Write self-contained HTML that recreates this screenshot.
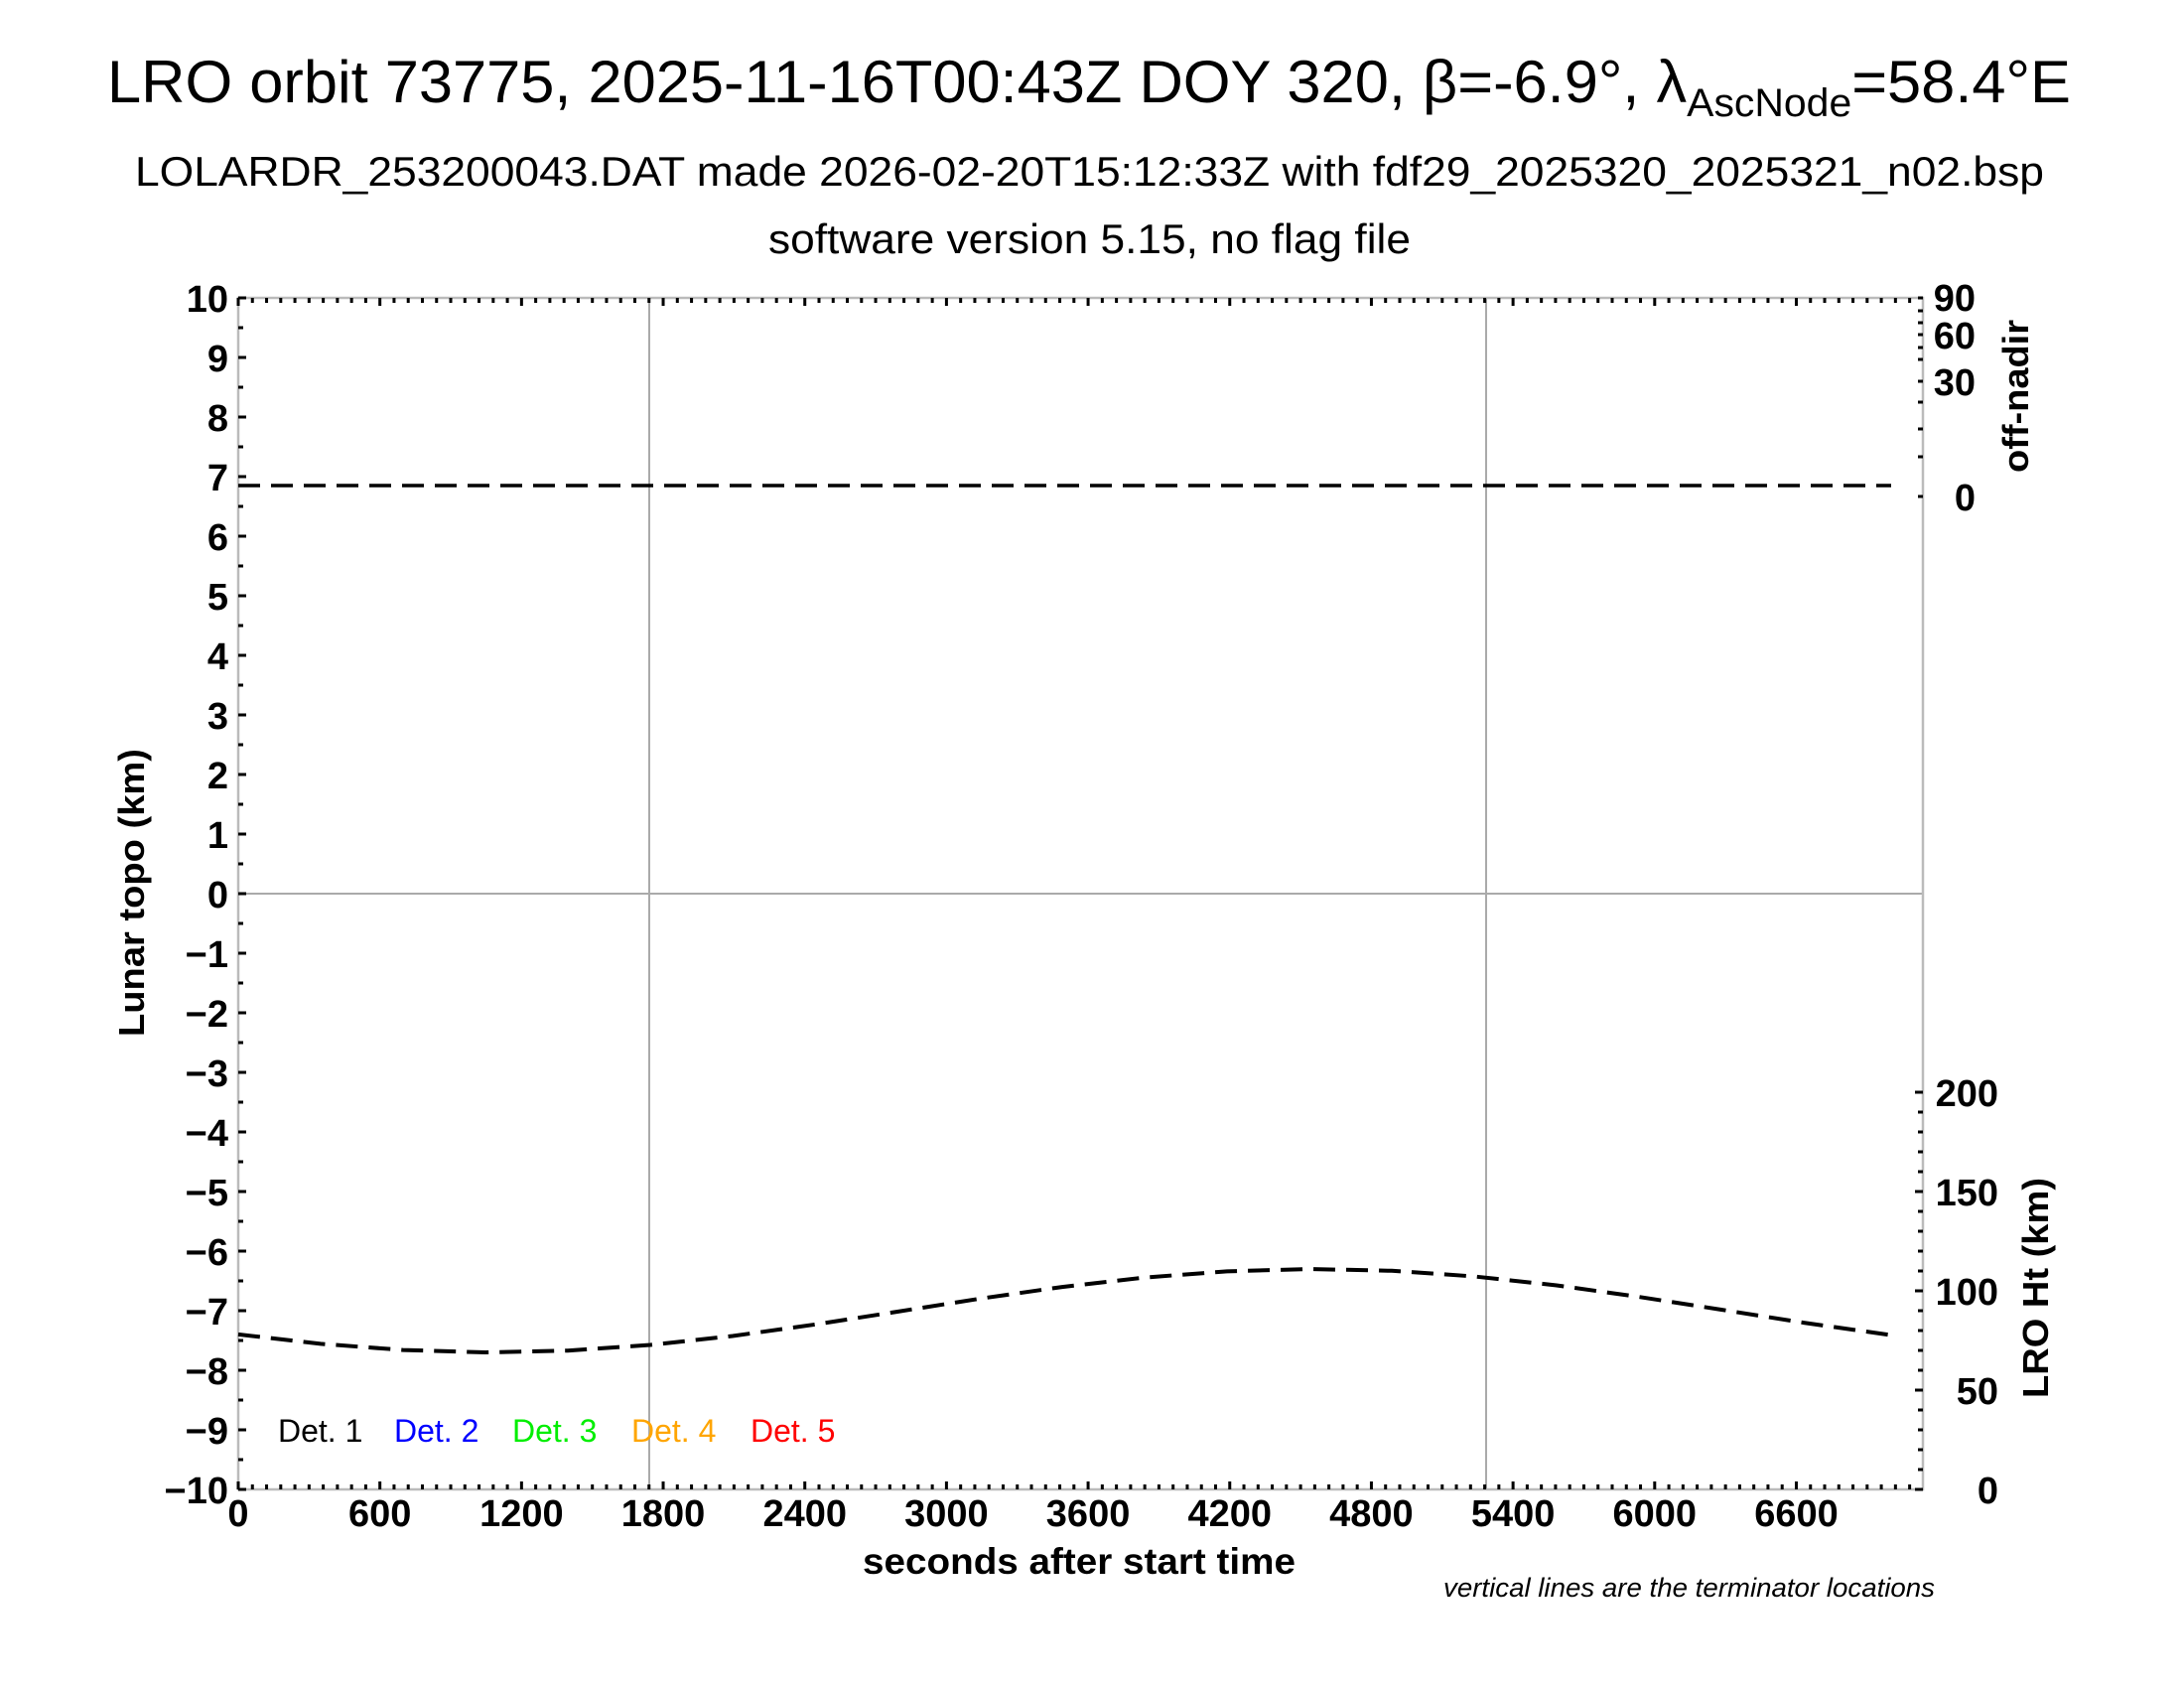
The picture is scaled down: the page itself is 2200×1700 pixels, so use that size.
<!DOCTYPE html>
<html><head><meta charset="utf-8"><style>
html,body{margin:0;padding:0;background:#fff}
svg{display:block}
text{font-family:"Liberation Sans",Arial,sans-serif}
</style></head><body>
<svg id="s" width="2200" height="1700" viewBox="0 0 2200 1700" xmlns="http://www.w3.org/2000/svg">
<rect width="2200" height="1700" fill="#fff"/>
<text x="108" y="103" font-size="60" textLength="1978" lengthAdjust="spacingAndGlyphs">LRO orbit 73775, 2025-11-16T00:43Z DOY 320, β=-6.9°, λ<tspan font-size="40" dy="14">AscNode</tspan><tspan dy="-14">=58.4°E</tspan></text>
<text x="136" y="187" font-size="42" textLength="1923" lengthAdjust="spacingAndGlyphs">LOLARDR_253200043.DAT made 2026-02-20T15:12:33Z with fdf29_2025320_2025321_n02.bsp</text>
<text x="774" y="255" font-size="42" textLength="647" lengthAdjust="spacingAndGlyphs">software version 5.15, no flag file</text>

<line x1="240" y1="900" x2="1937" y2="900" stroke="#aaa" stroke-width="2"/>
<line x1="654" y1="300" x2="654" y2="1500" stroke="#aaa" stroke-width="2"/>
<line x1="1497" y1="300" x2="1497" y2="1500" stroke="#aaa" stroke-width="2"/>
<rect x="240" y="300" width="1697" height="1200" fill="none" stroke="#bbb" stroke-width="2.5"/>
<g id="ticks" stroke="#000" stroke-width="3"></g>

<line x1="240" y1="489" x2="1905" y2="489" stroke="#000" stroke-width="3.5" stroke-dasharray="22,11"/>
<polyline fill="none" stroke="#000" stroke-width="4" stroke-dasharray="22,11" points="240,1343.9 323,1353.4 406,1359.6 489,1362 572,1360.2 655,1354.5 738,1345.5 821,1333.9 904,1321 987,1307.9 1070,1296.1 1153,1286.6 1236,1280.4 1319,1278 1402,1279.8 1485,1285.5 1568,1294.5 1651,1306.1 1734,1319 1817,1332.1 1905,1344.6"/>

<g id="yl" font-size="38" text-anchor="end" font-weight="bold"></g>
<g id="xl" font-size="38" text-anchor="middle" font-weight="bold"></g>
<g font-size="38" text-anchor="end" font-weight="bold">
<text x="1990" y="313">90</text><text x="1990" y="351">60</text><text x="1990" y="398">30</text><text x="1990" y="514">0</text>
<text x="2013" y="1114">200</text><text x="2013" y="1214">150</text><text x="2013" y="1314">100</text><text x="2013" y="1414">50</text><text x="2013" y="1514">0</text>
</g>
<text transform="translate(145,899) rotate(-90)" font-size="36" font-weight="bold" text-anchor="middle" textLength="290" lengthAdjust="spacingAndGlyphs">Lunar topo (km)</text>
<text transform="translate(2043,399) rotate(-90)" font-size="36" font-weight="bold" text-anchor="middle" textLength="154" lengthAdjust="spacingAndGlyphs">off-nadir</text>
<text transform="translate(2063,1297) rotate(-90)" font-size="36" font-weight="bold" text-anchor="middle" textLength="222" lengthAdjust="spacingAndGlyphs">LRO Ht (km)</text>
<text x="869" y="1585" font-size="37" font-weight="bold" textLength="436" lengthAdjust="spacingAndGlyphs">seconds after start time</text>
<text x="1454" y="1608" font-size="27" font-style="italic" textLength="495" lengthAdjust="spacingAndGlyphs">vertical lines are the terminator locations</text>
<g font-size="32">
<text x="280" y="1452" fill="#000">Det. 1</text>
<text x="397" y="1452" fill="#0000ff">Det. 2</text>
<text x="516" y="1452" fill="#00ee00">Det. 3</text>
<text x="636" y="1452" fill="#ffa500">Det. 4</text>
<text x="756" y="1452" fill="#ff0000">Det. 5</text>
</g>
</svg>
<script>
var NS="http://www.w3.org/2000/svg";
function el(p,n,a,t){var e=document.createElementNS(NS,n);for(var k in a)e.setAttribute(k,a[k]);if(t!=null)e.textContent=t;document.getElementById(p).appendChild(e);}
var px=0.2378;
for(var t=0;t<=7130;t+=60){var x=240+t*px,L=(t%600==0)?8:5;
 el("ticks","line",{x1:x,y1:1500,x2:x,y2:1500-L});
 el("ticks","line",{x1:x,y1:300,x2:x,y2:300+L});
 if(t%600==0) el("xl","text",{x:x,y:1537},String(t));}
for(var i=0;i<=40;i++){var y=300+i*30,L=(i%2==0)?8:5;
 el("ticks","line",{x1:240,y1:y,x2:240+L,y2:y});
 if(i%2==0){var v=10-i/2;el("yl","text",{x:230,y:y+14},v<0?"\u2212"+(-v):String(v));}}
for(var h=0;h<=200;h+=10){var y=1500-2*h;el("ticks","line",{x1:1937,y1:y,x2:1937-((h%50==0)?8:5),y2:y});}
[300,313,325,337,350,362,384,405,432,460,500].forEach(function(y){el("ticks","line",{x1:1937,y1:y,x2:1932,y2:y});});
</script>
</body></html>
